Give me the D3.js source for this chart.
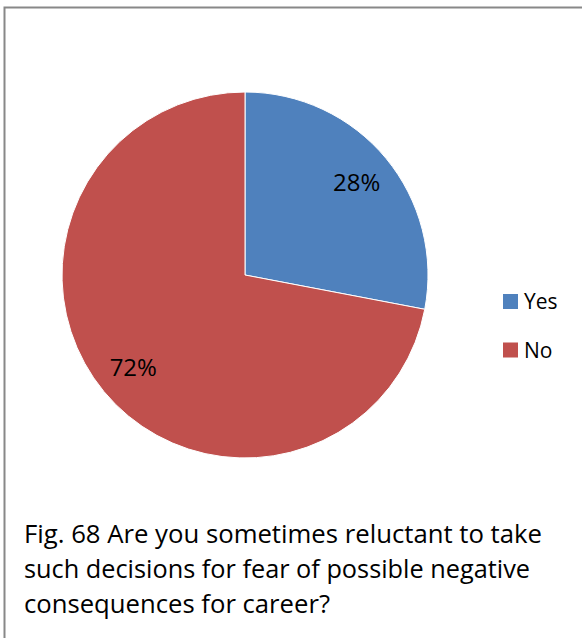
<!DOCTYPE html>
<html><head><meta charset="utf-8">
<script src="https://cdn.jsdelivr.net/npm/d3@7"></script>
<style>body{margin:0;background:#fff}svg{display:block}</style>
</head><body>
<script>
const categories = ["Yes", "No"];
const values = [28, 72];
const colors = ["#4F81BD", "#C0504D"];
const captionLines = ["Fig. 68 Are you sometimes reluctant to take", "such decisions for fear of possible negative", "consequences for career?"];
const captionWidths = [518, 506, 306];

const W = 582, H = 638;
const svg = d3.select("body").append("svg").attr("width", W).attr("height", H);
const font = "Open Sans, Carlito, Calibri, sans-serif";

svg.append("rect").attr("x", 4.5).attr("y", 7.5).attr("width", W + 10).attr("height", H + 10)
  .attr("fill", "#fff").attr("stroke", "#888").attr("stroke-width", 2);

const cx = 245, cy = 275, r = 183;
const pie = d3.pie().sort(null).value(d => d.v);
const arcs = pie(categories.map((c, i) => ({c, v: values[i], col: colors[i]})));
const arc = d3.arc().innerRadius(0).outerRadius(r);
const g = svg.append("g").attr("transform", `translate(${cx},${cy})`);
g.selectAll("path").data(arcs).join("path").attr("d", arc)
  .attr("fill", d => d.data.col).attr("stroke", "#fff").attr("stroke-width", 1);

const labelArc = d3.arc().innerRadius(145).outerRadius(145);
g.selectAll("text").data(arcs).join("text")
  .attr("transform", d => { const [x, y] = labelArc.centroid(d); return `translate(${x},${y})`; })
  .attr("text-anchor", "middle").attr("dy", "0.36em")
  .style("font-family", font).style("font-size", "24px").attr("fill", "#000")
  .text(d => d.data.v + "%");

const lg = svg.append("g").attr("transform", "translate(503,294)");
const items = lg.selectAll("g").data(categories).join("g").attr("transform", (d, i) => `translate(0,${i * 48.5})`);
items.append("rect").attr("width", 15).attr("height", 15).attr("fill", (d, i) => colors[i]);
items.append("text").attr("x", 21).attr("y", 15).style("font-family", font).style("font-size", "21px").text(d => d);

const cap = svg.append("g");
cap.selectAll("text").data(captionLines).join("text")
  .attr("x", 24).attr("y", (d, i) => 542.5 + i * 35)
  .attr("textLength", (d, i) => captionWidths[i]).attr("lengthAdjust", "spacingAndGlyphs")
  .style("font-family", font).style("font-size", "26px").attr("fill", "#000")
  .text(d => d);
</script>
</body></html>
